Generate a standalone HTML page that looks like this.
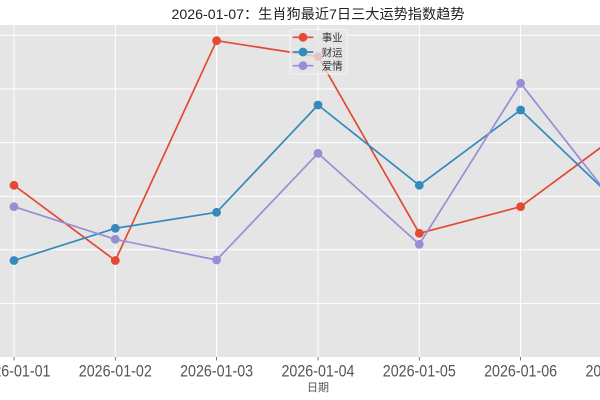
<!DOCTYPE html>
<html><head><meta charset="utf-8"><style>
html,body{margin:0;padding:0;background:#fff;}
svg{display:block;}
text{font-family:"Liberation Sans","Noto Sans CJK SC",sans-serif;}
</style></head><body>
<svg width="600" height="400" viewBox="0 0 600 400" xmlns="http://www.w3.org/2000/svg">
<rect x="0" y="0" width="600" height="400" fill="#fff"/>
<rect x="0" y="25" width="600" height="332" fill="#E5E5E5"/>
<g stroke="#fff" stroke-width="1">
<line x1="0" y1="35.3" x2="600" y2="35.3"/>
<line x1="0" y1="89" x2="600" y2="89"/>
<line x1="0" y1="142.6" x2="600" y2="142.6"/>
<line x1="0" y1="196.2" x2="600" y2="196.2"/>
<line x1="0" y1="249.8" x2="600" y2="249.8"/>
<line x1="0" y1="303.4" x2="600" y2="303.4"/>
<line x1="14" y1="25" x2="14" y2="357"/>
<line x1="115.3" y1="25" x2="115.3" y2="357"/>
<line x1="216.6" y1="25" x2="216.6" y2="357"/>
<line x1="318" y1="25" x2="318" y2="357"/>
<line x1="419.3" y1="25" x2="419.3" y2="357"/>
<line x1="520.6" y1="25" x2="520.6" y2="357"/>
</g>
<g stroke="#555" stroke-width="0.8">
<line x1="14" y1="357" x2="14" y2="360.5"/>
<line x1="115.3" y1="357" x2="115.3" y2="360.5"/>
<line x1="216.6" y1="357" x2="216.6" y2="360.5"/>
<line x1="318" y1="357" x2="318" y2="360.5"/>
<line x1="419.3" y1="357" x2="419.3" y2="360.5"/>
<line x1="520.6" y1="357" x2="520.6" y2="360.5"/>
</g>
<svg x="0" y="25" width="600" height="332" overflow="hidden" viewBox="0 25 600 332">
<g fill="none" stroke-width="1.7" stroke-linejoin="round">
<polyline stroke="#E24A33" points="14,185.3 115.3,260.5 216.6,40.7 318,56.5 419.3,233.3 520.6,206.7 622,131.8"/>
<polyline stroke="#348ABD" points="14,260.5 115.3,228.3 216.6,212.3 318,105 419.3,185.3 520.6,110 622,206.8"/>
<polyline stroke="#988ED5" points="14,206.7 115.3,239.3 216.6,260 318,153.3 419.3,244.3 520.6,83.3 622,212.2"/>
</g>
<g fill="#E24A33">
<circle cx="14" cy="185.3" r="4.4"/><circle cx="115.3" cy="260.5" r="4.4"/><circle cx="216.6" cy="40.7" r="4.4"/><circle cx="318" cy="56.5" r="4.4"/><circle cx="419.3" cy="233.3" r="4.4"/><circle cx="520.6" cy="206.7" r="4.4"/>
</g>
<g fill="#348ABD">
<circle cx="14" cy="260.5" r="4.4"/><circle cx="115.3" cy="228.3" r="4.4"/><circle cx="216.6" cy="212.3" r="4.4"/><circle cx="318" cy="105" r="4.4"/><circle cx="419.3" cy="185.3" r="4.4"/><circle cx="520.6" cy="110" r="4.4"/>
</g>
<g fill="#988ED5">
<circle cx="14" cy="206.7" r="4.4"/><circle cx="115.3" cy="239.3" r="4.4"/><circle cx="216.6" cy="260" r="4.4"/><circle cx="318" cy="153.3" r="4.4"/><circle cx="419.3" cy="244.3" r="4.4"/><circle cx="520.6" cy="83.3" r="4.4"/>
</g>
</svg>
<!-- legend -->
<rect x="290" y="29.5" width="57" height="44.5" rx="2.5" fill="#E5E5E5" fill-opacity="0.8" stroke="#fff" stroke-opacity="0.8" stroke-width="0.8"/>
<g stroke-width="1.7">
<line x1="292.7" y1="37.3" x2="313.3" y2="37.3" stroke="#E24A33"/>
<line x1="292.7" y1="52" x2="313.3" y2="52" stroke="#348ABD"/>
<line x1="292.7" y1="65.7" x2="313.3" y2="65.7" stroke="#988ED5"/>
</g>
<circle cx="303" cy="37.3" r="4.4" fill="#E24A33"/>
<circle cx="303" cy="52" r="4.4" fill="#348ABD"/>
<circle cx="303" cy="65.7" r="4.4" fill="#988ED5"/>
<g font-size="10.5" fill="#333">
<text x="321.7" y="41.2">事业</text>
<text x="321.7" y="55.9">财运</text>
<text x="321.7" y="69.6">爱情</text>
</g>
<!-- title -->
<text x="318" y="19" font-size="14" text-anchor="middle" fill="#222" textLength="293" lengthAdjust="spacingAndGlyphs">2026-01-07：生肖狗最近7日三大运势指数趋势</text>
<!-- x tick labels -->
<g font-size="17" fill="#555" text-anchor="middle">
<text x="14" y="376.5" textLength="73" lengthAdjust="spacingAndGlyphs">2026-01-01</text>
<text x="115.3" y="376.5" textLength="73" lengthAdjust="spacingAndGlyphs">2026-01-02</text>
<text x="216.6" y="376.5" textLength="73" lengthAdjust="spacingAndGlyphs">2026-01-03</text>
<text x="318" y="376.5" textLength="73" lengthAdjust="spacingAndGlyphs">2026-01-04</text>
<text x="419.3" y="376.5" textLength="73" lengthAdjust="spacingAndGlyphs">2026-01-05</text>
<text x="520.6" y="376.5" textLength="73" lengthAdjust="spacingAndGlyphs">2026-01-06</text>
<text x="622" y="376.5" textLength="73" lengthAdjust="spacingAndGlyphs">2026-01-07</text>
</g>
<text x="318" y="391" font-size="11" fill="#555" text-anchor="middle">日期</text>
</svg>
</body></html>
